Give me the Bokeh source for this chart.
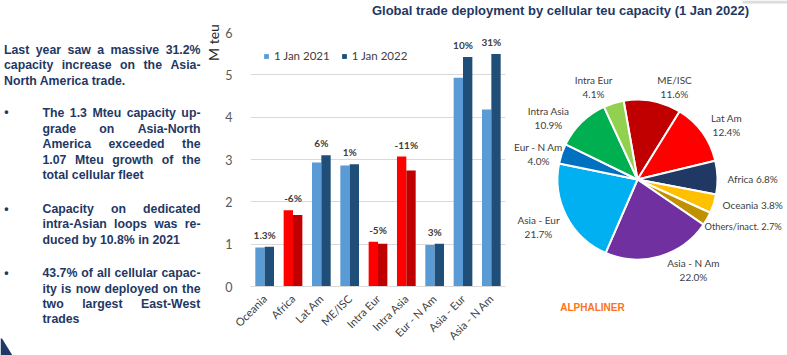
import math
from bokeh.plotting import figure
from bokeh.models import (ColumnDataSource, FactorRange, Range1d, Legend, LegendItem)
from bokeh.layouts import row, column
from bokeh.transform import dodge
from bokeh.core.properties import value
from bokeh.embed import file_html
from bokeh.resources import INLINE

# ---------------- data ----------------
trades = ["Oceania", "Africa", "Lat Am", "ME/ISC", "Intra Eur", "Intra Asia",
          "Eur - N Am", "Asia - Eur", "Asia - N Am"]
cap_2021 = [0.92, 1.80, 2.93, 2.86, 1.06, 3.07, 0.98, 4.93, 4.18]
cap_2022 = [0.94, 1.69, 3.10, 2.89, 1.01, 2.74, 1.01, 5.42, 5.49]
growth_labels = ["1.3%", "-6%", "6%", "1%", "-5%", "-11%", "3%", "10%", "31%"]
declining = ["Africa", "Intra Eur", "Intra Asia"]
series_names = ["1 Jan 2021", "1 Jan 2022"]
y_ticks = [0, 1, 2, 3, 4, 5, 6]
y_axis_title = "M teu"

pie_names = ["ME/ISC", "Lat Am", "Africa", "Oceania", "Others/inact.",
             "Asia - N Am", "Asia - Eur", "Eur - N Am", "Intra Asia", "Intra Eur"]
pie_shares = [11.6, 12.4, 6.8, 3.8, 2.7, 22.0, 21.7, 4.0, 10.9, 4.1]

title_text = "Global trade deployment by cellular teu capacity (1 Jan 2022)"
source_text = "ALPHALINER"

intro_lines = ["Last year saw a massive 31.2%",
               "capacity increase on the Asia-",
               "North America trade."]
bullet_paragraphs = [
    ["The 1.3 Mteu capacity up-",
     "grade on Asia-North",
     "America exceeded the",
     "1.07 Mteu growth of the",
     "total cellular fleet"],
    ["Capacity on dedicated",
     "intra-Asian loops was re-",
     "duced by 10.8% in 2021"],
    ["43.7% of all cellular capac-",
     "ity is now deployed on the",
     "two largest East-West",
     "trades"],
]

# ---------------- styles / layout ----------------
NAVY = "#1f3864"
GREY_TXT = "#404040"
C21, C22 = "#5b9bd5", "#1f4e79"
R21, R22 = "#ff0000", "#c00000"
pie_colors = ["#c00000", "#ff0000", "#1f3864", "#ffc000", "#bf9000",
              "#7030a0", "#00b0f0", "#0070c0", "#00b050", "#92d050"]
EXCEL_FONT = "Lato"
ARIAL = "Liberation Sans"

PAGE_W, PAGE_H = 787, 355
def Y(py):
    return PAGE_H - py

LEFT_W = 222           # page x 0..222
TITLE_H = 20           # page y 0..20
BAR_W = 288            # page x 222..510
PIE_W = PAGE_W - LEFT_W - BAR_W
BODY_H = PAGE_H - TITLE_H

# Arial/Liberation Sans Bold advance widths (1/1000 em)
AW = {' ': 278, 'a': 556, 'b': 611, 'c': 556, 'd': 611, 'e': 556, 'f': 333,
      'g': 611, 'h': 611, 'i': 278, 'j': 278, 'k': 556, 'l': 278, 'm': 889,
      'n': 611, 'o': 611, 'p': 611, 'q': 611, 'r': 389, 's': 556, 't': 333,
      'u': 611, 'v': 556, 'w': 778, 'x': 556, 'y': 556, 'z': 500,
      'A': 722, 'B': 722, 'C': 722, 'D': 722, 'E': 667, 'F': 611, 'G': 778,
      'H': 722, 'I': 278, 'J': 556, 'K': 722, 'L': 611, 'M': 833, 'N': 722,
      'O': 778, 'P': 667, 'Q': 778, 'R': 722, 'S': 667, 'T': 611, 'U': 722,
      'V': 667, 'W': 944, 'X': 667, 'Y': 667, 'Z': 611, '.': 278, ',': 278,
      '%': 889, '-': 333, '/': 278, '(': 333, ')': 333}
for d in "0123456789":
    AW[d] = 556
BODY_FS = 12.3


def tw(s, fs=BODY_FS):
    return sum(AW.get(ch, 556) for ch in s) * fs / 1000.0


def blank_fig(w, h, xr, yr):
    f = figure(width=w, height=h, x_range=Range1d(*xr), y_range=Range1d(*yr),
               output_backend="svg", toolbar_location=None,
               min_border=0, outline_line_color=None, frame_align=False)
    f.axis.visible = False
    f.grid.visible = False
    f.background_fill_color = "white"
    f.border_fill_color = "white"
    return f


# ---------------- left text panel ----------------
left = blank_fig(LEFT_W, PAGE_H, (0, LEFT_W), (0, PAGE_H))
txt_kw = dict(text_font=value(ARIAL), text_font_style="bold",
              text_font_size=f"{BODY_FS}px", text_color=NAVY,
              text_baseline="middle", text_align="left")


def put_line(line, x0, x1, py, justify):
    yy = Y(py)
    if not justify:
        left.text(x=[x0], y=[yy], text=[line], **txt_kw)
        return
    words = line.split(" ")
    total = sum(tw(w) for w in words)
    gap = (x1 - x0 - total) / (len(words) - 1)
    xs, x = [], x0
    for w in words:
        xs.append(x)
        x += tw(w) + gap
    left.text(x=xs, y=[yy] * len(words), text=words, **txt_kw)


intro_y = [49, 64.7, 80]
for i, line in enumerate(intro_lines):
    put_line(line, 3.5, 200, intro_y[i], i < len(intro_lines) - 1)

para_y = [[112.3, 128, 143.7, 159.3, 174.7],
          [208, 223.3, 239],
          [272.3, 288, 303.3, 318.3]]
bullet_y = [111, 208.5, 272]
for pi_, lines in enumerate(bullet_paragraphs):
    left.text(x=[6], y=[Y(bullet_y[pi_])], text=["\u2022"],
              **{**txt_kw, "text_align": "center"})
    for li, line in enumerate(lines):
        put_line(line, 42, 200, para_y[pi_][li], li < len(lines) - 1)

# small corner triangle of the slide
left.patch(x=[0, 1.5, 12, 0], y=[Y(338), Y(338), Y(355), Y(355)],
           fill_color="#1f3864", line_color=None)

# y axis title (sits left of the bar chart)
left.text(x=[213], y=[Y(42)], text=[y_axis_title], angle=math.pi / 2,
          text_align="center", text_baseline="middle", text_font=value(EXCEL_FONT),
          text_font_size="14px", text_color="#262626")

# ---------------- title ----------------
ttl = blank_fig(PAGE_W - LEFT_W, TITLE_H, (LEFT_W, PAGE_W), (Y(TITLE_H), Y(0)))
ttl.quad(left=[742], right=[787], bottom=[Y(3)], top=[Y(0)],
         fill_color="#dcdcdc", line_color=None)
ttl.text(x=[560], y=[Y(10)], text=[title_text], text_align="center",
         text_baseline="middle", text_font=value(ARIAL), text_font_style="bold",
         text_font_size="13px", text_color=NAVY)

# ---------------- bar chart ----------------
c21 = [R21 if t in declining else C21 for t in trades]
c22 = [R22 if t in declining else C22 for t in trades]
src = ColumnDataSource(dict(trade=trades, v21=cap_2021, v22=cap_2022, c21=c21,
                            c22=c22, lab=growth_labels,
                            top=[max(a, b) for a, b in zip(cap_2021, cap_2022)]))

p = figure(x_range=FactorRange(*trades), y_range=Range1d(0, 6),
           width=BAR_W, height=BODY_H, output_backend="svg", toolbar_location=None,
           min_border_left=23, min_border_right=5, min_border_top=12,
           min_border_bottom=69, outline_line_color=None, frame_align=False)
p.background_fill_color = "white"
p.border_fill_color = "white"

BW = 0.33
r1 = p.vbar(x=dodge("trade", -BW / 2, range=p.x_range), top="v21", width=BW,
            source=src, fill_color="c21", line_color=None)
r2 = p.vbar(x=dodge("trade", BW / 2, range=p.x_range), top="v22", width=BW,
            source=src, fill_color="c22", line_color=None)
p.text(x="trade", y="top", text="lab", source=src, text_align="center",
       text_baseline="middle", y_offset=-12, text_font=value(EXCEL_FONT),
       text_font_style="bold", text_font_size="10px", text_color=GREY_TXT)

p.yaxis.ticker = y_ticks
p.yaxis.axis_line_color = None
p.yaxis.major_tick_line_color = None
p.yaxis.minor_tick_line_color = None
p.yaxis.major_label_text_font = EXCEL_FONT
p.yaxis.major_label_text_font_size = "12.5px"
p.yaxis.major_label_text_color = "#595959"
p.yaxis.major_label_standoff = 12

p.xaxis.major_label_orientation = math.pi / 4
p.xaxis.axis_line_color = "#d9d9d9"
p.xaxis.major_tick_line_color = None
p.xaxis.minor_tick_line_color = None
p.xaxis.major_label_text_font = EXCEL_FONT
p.xaxis.major_label_text_font_size = "11px"
p.xaxis.major_label_text_color = GREY_TXT
p.xaxis.major_label_standoff = 4

p.xgrid.grid_line_color = None
p.ygrid.grid_line_color = "#d9d9d9"

legend = Legend(items=[LegendItem(label=series_names[0], renderers=[r1], index=0),
                       LegendItem(label=series_names[1], renderers=[r2], index=0)],
                orientation="horizontal", location=(13, 224),
                border_line_color=None, background_fill_alpha=0,
                glyph_width=6, glyph_height=6, label_standoff=5, spacing=11,
                padding=2, margin=0, label_text_font=EXCEL_FONT,
                label_text_font_size="11.5px", label_text_color=GREY_TXT)
p.add_layout(legend)

# ---------------- pie chart ----------------
pie = blank_fig(PIE_W, BODY_H, (LEFT_W + BAR_W, PAGE_W), (Y(PAGE_H), Y(TITLE_H)))
starts, ends = [], []
ang = 100.0
for s in pie_shares:
    starts.append(math.radians(ang))
    ang -= s * 3.6
    ends.append(math.radians(ang))
psrc = ColumnDataSource(dict(name=pie_names, share=pie_shares, start=starts,
                             end=ends, color=pie_colors))
PIE_CX, PIE_CY, PIE_R = 637, 179, 80
pie.wedge(x=PIE_CX, y=Y(PIE_CY), radius=PIE_R, start_angle="start",
          end_angle="end", direction="clock", fill_color="color",
          line_color="white", line_width=2, source=psrc)

# label placement: (x, y_name, mode, size)  'two' = centred two lines, 'one' = left single line
label_pos = [(674, 79, "two", 10), (726, 117, "two", 10), (727, 178, "one", 10),
             (722, 204, "one", 10), (704, 226, "one", 9.3), (693, 262, "two", 10),
             (538, 219, "two", 10), (538, 146, "two", 10), (548, 110, "two", 10),
             (593, 79, "two", 10)]
pl_kw = dict(text_font=value(EXCEL_FONT), text_color=GREY_TXT,
             text_baseline="middle")
for name, share, (lx, ly, mode, fs) in zip(pie_names, pie_shares, label_pos):
    pct = f"{share:.1f}%"
    if mode == "two":
        pie.text(x=[lx, lx], y=[Y(ly), Y(ly + 14)], text=[name, pct],
                 text_align="center", text_font_size=f"{fs}px", **pl_kw)
    else:
        pie.text(x=[lx], y=[Y(ly)], text=[f"{name} {pct}"], text_align="left",
                 text_font_size=f"{fs}px", **pl_kw)

pie.text(x=[592], y=[Y(307)], text=[source_text], text_align="center",
         text_baseline="middle", text_font=value(ARIAL), text_font_style="bold",
         text_font_size="10px", text_color="#fa7320")

layout = row(left, column(ttl, row(p, pie)))
open("out.html", "w").write(file_html(layout, INLINE))
